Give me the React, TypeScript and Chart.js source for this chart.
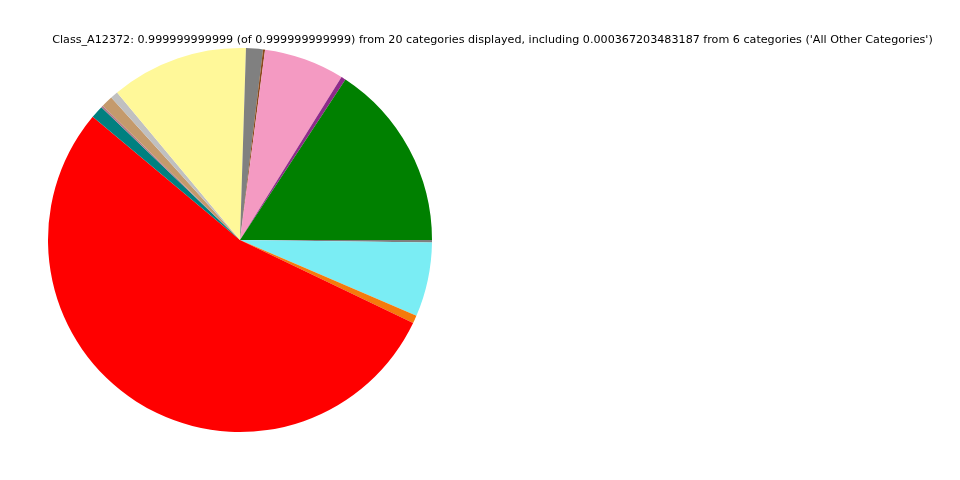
import React, { useEffect, useRef } from "react";
import { Chart, registerables } from "chart.js";

Chart.register(...registerables);

// Categories in counter-clockwise order starting at 3 o'clock (as in the reference)
const categories = [
  "Category 1", "Category 2", "Category 3", "Category 4", "Category 5",
  "Category 6", "Category 7", "Category 8", "Category 9", "Category 10",
  "Category 11", "Category 12", "Category 13", "Category 14",
];
const values = [
  0.1575, 0.0039, 0.0678, 0.0017, 0.0142,
  0.1156, 0.0064, 0.0097, 0.0017, 0.0108,
  0.5398, 0.0066, 0.0625, 0.0021,
];
const colors = [
  "#008000", "#8e2a8a", "#f49ac2", "#8b4a1c", "#808080",
  "#fff899", "#c0c0c0", "#c49a6c", "#b07a8a", "#008080",
  "#ff0000", "#f57a0c", "#7aedf4", "#808080",
];
const titleText =
  "Class_A12372: 0.999999999999 (of 0.999999999999) from 20 categories displayed, including 0.000367203483187 from 6 categories ('All Other Categories')";

export default function App() {
  const ref = useRef<HTMLCanvasElement | null>(null);
  useEffect(() => {
    if (!ref.current) return;
    // Chart.js draws clockwise, so reverse the counter-clockwise order
    const labels = [...categories].reverse();
    const data = [...values].reverse();
    const bg = [...colors].reverse();
    const titlePlugin = {
      id: "figTitle",
      afterDraw(chart: any) {
        const ctx = chart.ctx;
        ctx.save();
        ctx.fillStyle = "#000";
        ctx.font = "11.15px 'DejaVu Sans'";
        ctx.textAlign = "center";
        ctx.textBaseline = "middle";
        ctx.fillText(titleText, 492.5, 40.5);
        ctx.restore();
      },
    };
    const chart = new Chart(ref.current, {
      type: "pie",
      data: {
        labels,
        datasets: [
          {
            data,
            backgroundColor: bg,
            borderColor: bg,
            borderWidth: 0,
          },
        ],
      },
      options: {
        responsive: false,
        animation: false,
        rotation: 90,
        layout: { padding: { left: 48, right: 528, top: 48, bottom: 48 } },
        plugins: {
          legend: { display: false },
          tooltip: { enabled: false },
          title: { display: false },
        },
      },
      plugins: [titlePlugin],
    });
    return () => chart.destroy();
  }, []);
  return (
    <div style={{ position: "fixed", left: 0, top: 0, width: 960, height: 480, background: "#fff" }}>
      <canvas ref={ref} width={960} height={480} style={{ width: 960, height: 480 }} />
    </div>
  );
}
